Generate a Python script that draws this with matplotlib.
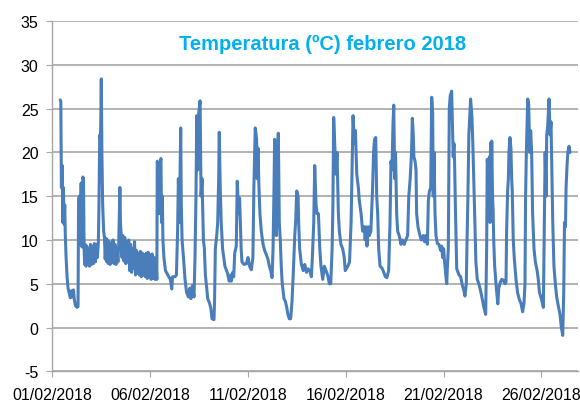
import pandas as pd
import matplotlib
matplotlib.use("Agg")
import matplotlib.pyplot as plt
import matplotlib.dates as mdates

plt.rcParams['font.family'] = ['Liberation Sans', 'DejaVu Sans']
plt.rcParams['axes.unicode_minus'] = False

# días desde 01/02/2018 00:00 y temperatura (ºC)
dias = [
    0.40, 0.43, 0.46, 0.50, 0.53, 0.56, 0.60, 0.63, 0.66, 0.70, 0.75, 0.80, 0.85, 0.92, 0.97,
    1.02, 1.08, 1.12, 1.18, 1.26, 1.31, 1.34, 1.38, 1.43, 1.47, 1.51, 1.56, 1.59, 1.62,
    1.65, 1.68, 1.72, 1.76, 1.80, 1.85, 1.90, 1.95, 2.00, 2.05, 2.10, 2.15, 2.20, 2.25, 2.30, 2.35,
    2.38, 2.42, 2.46, 2.50, 2.53, 2.57, 2.62,
    2.66, 2.70, 2.74, 2.78, 2.82, 2.86, 2.90, 2.95, 3.00, 3.05, 3.10, 3.15, 3.20, 3.25, 3.30, 3.35, 3.39,
    3.42, 3.45, 3.48, 3.52,
    3.56, 3.60, 3.65, 3.70, 3.75, 3.80, 3.85, 3.90, 3.95, 4.00, 4.05, 4.10, 4.15, 4.20, 4.25, 4.30,
    4.35, 4.40, 4.45, 4.50, 4.55, 4.60, 4.65, 4.70, 4.75, 4.80, 4.85, 4.90, 4.95, 5.00, 5.05, 5.10,
    5.15, 5.20, 5.25, 5.30, 5.34,
    5.36, 5.40, 5.45, 5.51, 5.55, 5.58, 5.62, 5.65, 5.70, 5.78, 5.90, 6.03, 6.10, 6.14, 6.27, 6.34,
    6.40, 6.44, 6.49, 6.56, 6.59, 6.63, 6.70, 6.78, 6.86, 6.95, 7.03, 7.08, 7.16, 7.24, 7.29, 7.34,
    7.38, 7.43, 7.48, 7.55, 7.60, 7.65, 7.72, 7.77, 7.82, 7.89, 7.94, 8.03, 8.10, 8.16, 8.26, 8.29,
    8.33, 8.40, 8.45, 8.50, 8.53, 8.58, 8.63, 8.70, 8.82, 8.94, 9.04, 9.10, 9.15, 9.22, 9.27, 9.32,
    9.40, 9.45, 9.52, 9.57, 9.62, 9.65, 9.69, 9.80, 9.92, 10.00, 10.08, 10.17, 10.25, 10.30, 10.37,
    10.44, 10.47, 10.51, 10.56, 10.61, 10.68, 10.77, 10.85, 10.94, 11.02, 11.09, 11.16, 11.23, 11.28,
    11.33, 11.36, 11.40, 11.45, 11.50, 11.55, 11.60, 11.65, 11.70, 11.75, 11.84, 11.91, 11.98, 12.04,
    12.11, 12.18, 12.25, 12.31, 12.39, 12.44, 12.49, 12.56, 12.59, 12.64, 12.73, 12.82, 12.90, 12.99,
    13.07, 13.16, 13.24, 13.29, 13.36, 13.41, 13.48, 13.53, 13.60, 13.67, 13.73, 13.82, 13.90, 13.99,
    14.07, 14.16, 14.23, 14.30, 14.34, 14.38, 14.45, 14.50, 14.55, 14.62, 14.67, 14.75, 14.84, 14.92,
    14.97, 15.10, 15.19, 15.27, 15.32, 15.37, 15.44, 15.49, 15.56, 15.64, 15.69, 15.78, 15.86, 15.94,
    15.99, 16.03, 16.08, 16.15, 16.20, 16.28, 16.37, 16.42, 16.47, 16.53, 16.58, 16.63, 16.68, 16.75,
    16.85, 16.94, 17.02, 17.10, 17.19, 17.26, 17.31, 17.36, 17.41, 17.45, 17.50, 17.54, 17.60, 17.65,
    17.73, 17.82, 17.90, 17.99, 18.03, 18.07, 18.16, 18.22, 18.29, 18.36, 18.40, 18.45, 18.48, 18.54,
    18.59, 18.62, 18.69, 18.79, 18.86, 18.96, 19.03, 19.08, 19.17, 19.22, 19.27, 19.34, 19.39, 19.44,
    19.47, 19.51, 19.56, 19.61, 19.68, 19.76, 19.85, 19.90, 19.95, 20.00, 20.05, 20.11, 20.16, 20.19,
    20.24, 20.26, 20.29, 20.34, 20.41, 20.46, 20.49, 20.53, 20.56, 20.60, 20.67, 20.79, 20.87, 20.96,
    21.04, 21.09, 21.16, 21.19, 21.24, 21.29, 21.38, 21.45, 21.50, 21.55, 21.60, 21.65, 21.72, 21.80,
    21.89, 21.97, 22.06, 22.15, 22.20, 22.23, 22.27, 22.31, 22.34, 22.37, 22.40, 22.42, 22.46, 22.50,
    22.53, 22.56, 22.61, 22.70, 22.77, 22.82, 22.89, 22.97, 23.06, 23.14, 23.19, 23.22, 23.27, 23.31,
    23.34, 23.39, 23.44, 23.48, 23.51, 23.56, 23.61, 23.70, 23.78, 23.87, 23.95, 24.04, 24.11, 24.16,
    24.19, 24.23, 24.30, 24.35, 24.40, 24.45, 24.50, 24.55, 24.62, 24.69, 24.78, 24.84, 24.90, 24.97,
    25.03, 25.10, 25.15, 25.19, 25.24, 25.27, 25.32, 25.39, 25.44, 25.49, 25.54, 25.58, 25.64, 25.71,
    25.78, 25.86, 25.95, 26.02, 26.09, 26.14, 26.18, 26.23, 26.26, 26.31, 26.35, 26.41, 26.46,
]

temperaturas = [
    26.0, 25.8, 16.0, 18.5, 12.0, 16.0, 11.8, 14.0, 10.5, 8.0, 5.8, 4.5, 4.0, 3.4, 4.2,
    3.5, 4.3, 3.2, 2.5, 2.3, 2.4, 14.7, 15.0, 9.5, 16.5, 9.2, 17.2, 16.8, 9.0,
    7.2, 9.5, 7.0, 9.3, 7.2, 9.0, 7.0, 9.5, 7.2, 9.3, 7.3, 9.6, 7.5, 9.5, 8.0, 9.8,
    14.0, 22.0, 21.5, 28.4, 20.0, 14.0, 11.0,
    10.3, 7.8, 10.2, 7.5, 10.0, 7.3, 9.8, 7.2, 9.5, 7.5, 10.0, 7.3, 9.5, 7.2, 9.0, 7.5, 9.5,
    13.0, 16.0, 12.0, 10.5,
    8.0, 10.5, 7.6, 10.3, 7.3, 9.8, 7.5, 10.0, 6.5, 9.5, 6.3, 9.0, 6.8, 9.8, 6.0, 8.8,
    6.2, 8.5, 6.0, 8.7, 5.8, 8.5, 6.0, 8.3, 5.8, 8.5, 5.6, 8.6, 5.7, 8.3, 5.5, 8.4,
    5.6, 8.0, 5.5, 7.5, 5.5,
    19.0, 18.5, 13.0, 18.8, 19.3, 12.0, 15.0, 10.0, 8.0, 6.5, 6.0, 5.5, 4.4, 5.8, 5.8, 6.0,
    11.0, 17.0, 12.0, 22.8, 14.0, 10.0, 8.0, 5.5, 4.0, 3.5, 4.5, 3.3, 4.8, 3.5, 8.0, 15.0,
    24.2, 18.0, 24.5, 25.9, 15.0, 17.0, 10.0, 9.0, 6.0, 4.5, 3.3, 2.8, 2.2, 1.0, 0.9, 3.0,
    9.0, 10.5, 12.0, 17.0, 22.3, 16.0, 12.0, 9.0, 7.0, 6.3, 5.3, 6.0, 5.3, 6.3, 5.8, 8.5,
    9.3, 16.7, 13.0, 14.8, 11.0, 9.0, 7.5, 7.2, 7.3, 8.0, 7.0, 6.6, 8.0, 16.0, 22.8,
    21.5, 17.0, 20.5, 16.0, 13.0, 11.0, 9.5, 8.8, 8.3, 7.8, 7.0, 6.5, 5.7, 9.0,
    16.0, 21.5, 11.0, 10.5, 20.0, 22.2, 12.0, 10.0, 7.0, 5.0, 3.3, 3.0, 2.3, 1.5,
    1.0, 1.0, 3.0, 6.0, 10.5, 12.3, 15.6, 15.0, 12.0, 9.0, 7.2, 6.5, 7.2, 6.3,
    6.7, 6.5, 5.8, 8.0, 12.0, 18.5, 14.0, 13.0, 13.0, 9.0, 7.0, 5.5, 7.0, 6.5,
    6.0, 5.0, 5.0, 9.0, 14.0, 24.0, 20.0, 17.5, 20.0, 13.0, 11.0, 9.5, 9.0, 8.0,
    6.5, 7.0, 7.5, 12.0, 18.0, 24.2, 21.0, 22.5, 17.5, 16.0, 14.5, 13.0, 11.0, 11.5,
    10.0, 11.5, 9.3, 11.5, 10.5, 11.0, 16.0, 20.0, 21.5, 21.7, 15.0, 13.0, 9.0, 7.0,
    6.8, 6.3, 5.8, 5.7, 6.5, 12.0, 19.0, 18.0, 23.0, 25.4, 17.0, 20.0, 13.0, 11.0,
    10.5, 9.5, 10.0, 9.5, 9.8, 10.0, 10.5, 15.0, 17.0, 20.0, 23.9, 22.0, 19.5, 19.0,
    18.0, 13.0, 11.5, 10.5, 10.0, 10.5, 9.8, 10.5, 9.5, 14.5, 15.5, 16.0, 26.3, 24.5,
    15.0, 20.0, 13.0, 10.5, 9.6, 9.5, 8.8, 9.3, 8.0, 9.0, 7.5, 6.0, 5.0, 6.8,
    9.0, 15.0, 25.0, 26.5, 27.0, 22.0, 19.5, 21.0, 19.0, 14.0, 6.7, 6.0, 5.8, 4.8,
    4.2, 3.6, 5.0, 9.0, 14.7, 22.0, 26.1, 24.0, 20.5, 16.0, 11.0, 7.5, 5.5, 5.0,
    4.2, 3.3, 2.3, 1.5, 9.0, 19.2, 18.0, 14.0, 19.5, 12.0, 21.1, 12.5, 21.3, 15.0,
    13.5, 10.0, 7.0, 4.4, 2.7, 4.5, 5.1, 5.5, 5.4, 5.0, 5.2, 11.0, 15.5, 17.0,
    20.0, 21.7, 20.5, 17.0, 15.5, 10.0, 8.0, 5.5, 4.0, 3.2, 2.8, 1.8, 2.8, 5.0,
    15.0, 20.0, 26.1, 25.5, 20.0, 22.5, 20.0, 13.0, 9.0, 7.5, 6.5, 5.5, 4.0, 3.5,
    3.0, 2.3, 12.0, 20.0, 15.0, 22.0, 23.0, 26.1, 22.0, 23.5, 17.0, 12.0, 7.0, 5.0,
    3.5, 2.5, 1.5, 0.0, -0.9, 4.0, 12.0, 11.5, 16.0, 18.5, 20.0, 20.7, 20.0,
]

inicio = pd.Timestamp("2018-02-01")
fechas = inicio + pd.to_timedelta(dias, unit="D")

fig = plt.figure(figsize=(5.8, 4.06), dpi=100)
ax = fig.add_axes([52.4 / 580, 33.7 / 406, 525.6 / 580, 350.2 / 406])

ax.plot(fechas, temperaturas, color="#4a7ebb", linewidth=2.2,
        solid_joinstyle="round", solid_capstyle="round")

ax.set_xlim(inicio, inicio + pd.Timedelta(days=26.87))
ax.set_ylim(-5, 35)
ax.set_yticks(range(-5, 36, 5))
ax.xaxis.set_major_locator(mdates.DayLocator(bymonthday=[1, 6, 11, 16, 21, 26]))
ax.xaxis.set_major_formatter(mdates.DateFormatter("%d/%m/%Y"))

ax.yaxis.grid(True, color="#a6a6a6", linewidth=1.2)
ax.set_axisbelow(True)
for lado in ["top", "right"]:
    ax.spines[lado].set_visible(False)
for lado in ["left", "bottom"]:
    ax.spines[lado].set_color("#a6a6a6")
    ax.spines[lado].set_linewidth(1.0)

ax.tick_params(axis="y", length=4, color="#a6a6a6", labelsize=11.5, pad=6)
ax.tick_params(axis="x", length=4, color="#a6a6a6", labelsize=11.5, pad=7)

fig.text(322.5 / 580, 1 - 44.5 / 406, "Temperatura (ºC) febrero 2018",
         ha="center", va="center", fontsize=14.5, fontweight="bold", color="#00b0f0")

plt.savefig("out.png", dpi=100)
